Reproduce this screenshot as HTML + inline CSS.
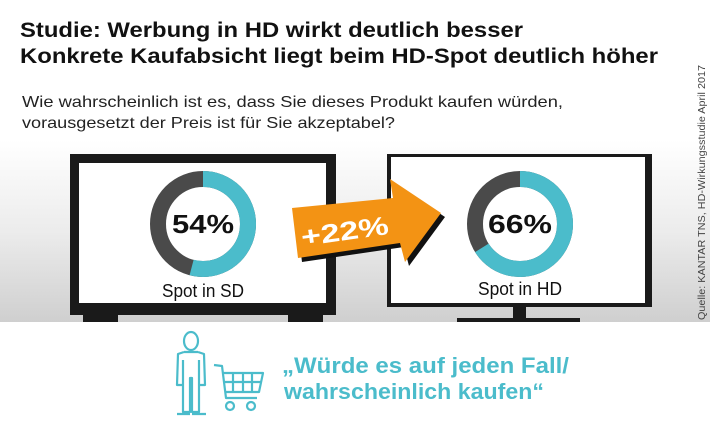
<!DOCTYPE html>
<html><head><meta charset="utf-8"><style>html,body{margin:0;padding:0;background:#fff}svg{display:block}</style></head>
<body>
<svg width="710" height="426" viewBox="0 0 710 426" xmlns="http://www.w3.org/2000/svg" font-family="Liberation Sans, sans-serif">
<defs>
<linearGradient id="bg" x1="0" y1="0" x2="0" y2="1">
<stop offset="0" stop-color="#ffffff"/><stop offset="0.5" stop-color="#ececec"/><stop offset="1" stop-color="#cfcfcf"/>
</linearGradient>
</defs>
<rect x="0" y="140" width="710" height="182" fill="url(#bg)"/>
<text x="20" y="37" font-size="21" font-weight="bold" fill="#111" textLength="503" lengthAdjust="spacingAndGlyphs">Studie: Werbung in HD wirkt deutlich besser</text>
<text x="20" y="63" font-size="21" font-weight="bold" fill="#111" textLength="638" lengthAdjust="spacingAndGlyphs">Konkrete Kaufabsicht liegt beim HD-Spot deutlich höher</text>
<text x="22" y="107" font-size="16" fill="#222" textLength="541" lengthAdjust="spacingAndGlyphs">Wie wahrscheinlich ist es, dass Sie dieses Produkt kaufen würden,</text>
<text x="22" y="128" font-size="16" fill="#222" textLength="373" lengthAdjust="spacingAndGlyphs">vorausgesetzt der Preis ist für Sie akzeptabel?</text>
<text transform="translate(705,320) rotate(-90)" font-size="10" fill="#444" textLength="255" lengthAdjust="spacingAndGlyphs">Quelle: KANTAR TNS, HD-Wirkungsstudie April 2017</text>
<!-- left TV -->
<rect x="70" y="154" width="266" height="161" fill="#1a1a1a"/>
<rect x="79" y="163" width="247" height="140" fill="#fff"/>
<rect x="83" y="313" width="35" height="9" fill="#1a1a1a"/>
<rect x="288" y="313" width="35" height="9" fill="#1a1a1a"/>
<!-- right TV -->
<rect x="387" y="154" width="265" height="153" fill="#1a1a1a"/>
<rect x="391" y="157" width="254" height="146" fill="#fff"/>
<rect x="513" y="307" width="13" height="12" fill="#1a1a1a"/>
<rect x="457" y="318" width="123" height="4" fill="#1a1a1a"/>
<!-- donuts -->
<g transform="translate(203,224)">
<circle r="45" fill="none" stroke="#4a4a4a" stroke-width="16"/>
<circle r="45" fill="none" stroke="#4bbccb" stroke-width="16" stroke-dasharray="152.7 400" transform="rotate(-90)"/>
<text x="0" y="9" text-anchor="middle" font-size="26" font-weight="bold" fill="#111" textLength="62" lengthAdjust="spacingAndGlyphs">54%</text>
</g>
<text x="203" y="297" text-anchor="middle" font-size="18" fill="#111" textLength="82" lengthAdjust="spacingAndGlyphs">Spot in SD</text>
<g transform="translate(520,224)">
<circle r="45" fill="none" stroke="#4a4a4a" stroke-width="16"/>
<circle r="45" fill="none" stroke="#4bbccb" stroke-width="16" stroke-dasharray="186.6 400" transform="rotate(-90)"/>
<text x="0" y="9" text-anchor="middle" font-size="26" font-weight="bold" fill="#111" textLength="64" lengthAdjust="spacingAndGlyphs">66%</text>
</g>
<text x="520" y="295" text-anchor="middle" font-size="18" fill="#111" textLength="84" lengthAdjust="spacingAndGlyphs">Spot in HD</text>
<!-- arrow -->
<polygon points="296,212 396,202 394,183 445,217 409,266 404,247 302,262" fill="#111"/>
<polygon points="292,208 393,198 390,179 441,213 405,262 400,243 298,258" fill="#f39314"/>
<text transform="translate(346,240) rotate(-8)" text-anchor="middle" font-size="26" font-weight="bold" fill="#fff" textLength="88" lengthAdjust="spacingAndGlyphs">+22%</text>
<!-- person -->
<g fill="none" stroke="#4bbccb" stroke-width="2.2" stroke-linejoin="round">
<ellipse cx="191" cy="341" rx="7" ry="9"/>
<path d="M184,352 L178,354 L177,385 L183,385 L183,360 M198,352 L204,354 L205,385 L199,385 L199,360 M183,360 L183,412 L190,412 L190,378 L192,378 L192,412 L199,412 L199,360 M184,352 L198,352"/>
<path d="M177,414 L190,414 M192,414 L206,414"/>
<!-- cart -->
<path d="M214,365 L222,366 L226,398 L257,398 M223,373 L263,373 L259,392 L225,392"/>
<path d="M233,373 L233,392 M243,373 L243,392 M252,373 L252,392 M224,382 L261,382"/>
<circle cx="230" cy="406" r="4"/><circle cx="251" cy="406" r="4"/>
</g>
<text x="282" y="373" font-size="22" font-weight="bold" fill="#4bbccb" textLength="287" lengthAdjust="spacingAndGlyphs">„Würde es auf jeden Fall/</text>
<text x="284" y="399" font-size="22" font-weight="bold" fill="#4bbccb" textLength="260" lengthAdjust="spacingAndGlyphs">wahrscheinlich kaufen“</text>
</svg>
</body></html>
